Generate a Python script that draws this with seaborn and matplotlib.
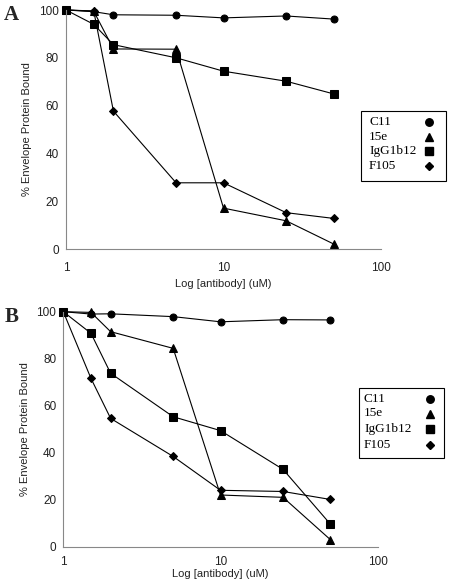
import matplotlib
matplotlib.use("Agg")
import matplotlib.pyplot as plt
import seaborn as sns
import pandas as pd
from matplotlib.lines import Line2D
from matplotlib.patches import Rectangle

sns.set_theme(style="white")
plt.rcParams['font.family'] = ['Liberation Sans', 'DejaVu Sans']

concentration = [1, 1.5, 2, 5, 10, 25, 50]
series_names = ["C11", "15e", "IgG1b12", "F105"]

a_c11 = [100, 99.3, 98.0, 97.8, 96.7, 97.5, 96.2]
a_15e = [100, 99.5, 83.7, 83.6, 17.1, 11.8, 2.1]
a_igg = [100, 94.0, 85.5, 80.0, 74.4, 70.2, 64.9]
a_f105 = [100, 99.6, 57.7, 27.7, 27.7, 15.2, 12.8]

b_c11 = [100, 99.0, 99.1, 97.9, 95.7, 96.6, 96.5]
b_15e = [100, 99.7, 91.5, 84.4, 22.0, 21.0, 3.0]
b_igg = [100, 90.8, 73.8, 55.3, 49.4, 32.9, 9.6]
b_f105 = [100, 71.6, 54.6, 38.4, 24.0, 23.5, 20.1]

y_ticks = [0, 20, 40, 60, 80, 100]
x_ticks = [1, 10, 100]
x_tick_labels = ["1", "10", "100"]

markers = {"C11": "o", "15e": "^", "IgG1b12": "s", "F105": "D"}
msizes = {"C11": 5.0, "15e": 5.8, "IgG1b12": 5.4, "F105": 3.9}

W, H = 449, 588


def make_df(vals):
    rows = []
    for name, v in zip(series_names, vals):
        for x, y in zip(concentration, v):
            rows.append({"conc": x, "bound": y, "series": name})
    return pd.DataFrame(rows)


def fx(px):
    return px / W


def fy(py):
    return 1 - py / H


fig = plt.figure(figsize=(4.49, 5.88), dpi=100)
axA = fig.add_axes([fx(66), fy(249), (381-66)/W, 239/H])
axB = fig.add_axes([fx(63.3), fy(546.7), (377.7-63.3)/W, 235/H])

panels = [
    dict(ax=axA, df=make_df([a_c11, a_15e, a_igg, a_f105]), letter="A",
         box=(360.7, 111, 446, 181), rows=[122, 136.5, 151, 166], textx=369,
         markx=429, lpos=(11, 15), tickpad=17, xlabelpad=4, ylabelpad=5),
    dict(ax=axB, df=make_df([b_c11, b_15e, b_igg, b_f105]), letter="B",
         box=(359, 388, 444, 458), rows=[398.5, 413.5, 429, 445], textx=364,
         markx=430, lpos=(12, 317), tickpad=15, xlabelpad=0.5, ylabelpad=5),
]

for p in panels:
    ax = p["ax"]
    df = p["df"]
    for name in series_names:
        sub = df[df["series"] == name]
        sns.lineplot(data=sub, x="conc", y="bound", ax=ax, color="black",
                     marker=markers[name], markersize=msizes[name],
                     markeredgecolor="black", linewidth=0.8, legend=False)
    ax.set_xscale("log")
    ax.set_xlim(1, 100)
    ax.set_ylim(0, 100)
    ax.set_xticks(x_ticks)
    ax.set_xticklabels(x_tick_labels)
    ax.minorticks_off()
    ax.set_yticks(y_ticks)
    for s in ["top", "right"]:
        ax.spines[s].set_visible(False)
    for s in ["left", "bottom"]:
        ax.spines[s].set_color("#888888")
        ax.spines[s].set_linewidth(0.8)
    ax.tick_params(axis="both", labelsize=8.5, colors="#222222", length=2,
                   width=0.6, color="#888888")
    ax.tick_params(axis="x", pad=p["tickpad"] - 10)
    ax.tick_params(axis="y", pad=3)
    ax.set_ylabel("% Envelope Protein Bound", fontsize=8, color="#222222",
                  labelpad=p["ylabelpad"])
    ax.set_xlabel("Log [antibody] (uM)", fontsize=8, color="#222222",
                  labelpad=p["xlabelpad"])
    for line in ax.lines:
        line.set_clip_on(False)

    # legend box (labels left, markers right)
    x0, y0, x1, y1 = p["box"]
    fig.patches.append(Rectangle((fx(x0), fy(y1)), (x1 - x0) / W, (y1 - y0) / H,
                                 transform=fig.transFigure, facecolor="white",
                                 edgecolor="black", linewidth=0.8))
    for name, ry in zip(series_names, p["rows"]):
        fig.text(fx(p["textx"]), fy(ry), name, family="Liberation Serif",
                 fontsize=9.5, ha="left", va="center", color="black")
        fig.lines.append(Line2D([fx(p["markx"])], [fy(ry)], transform=fig.transFigure,
                                linestyle="none", marker=markers[name],
                                markersize=msizes[name] + 0.4, color="black"))
    fig.text(fx(p["lpos"][0]), fy(p["lpos"][1]), p["letter"], fontsize=15,
             fontweight="bold", family="Liberation Serif", ha="center", va="center")

fig.savefig("out.png", dpi=100)
